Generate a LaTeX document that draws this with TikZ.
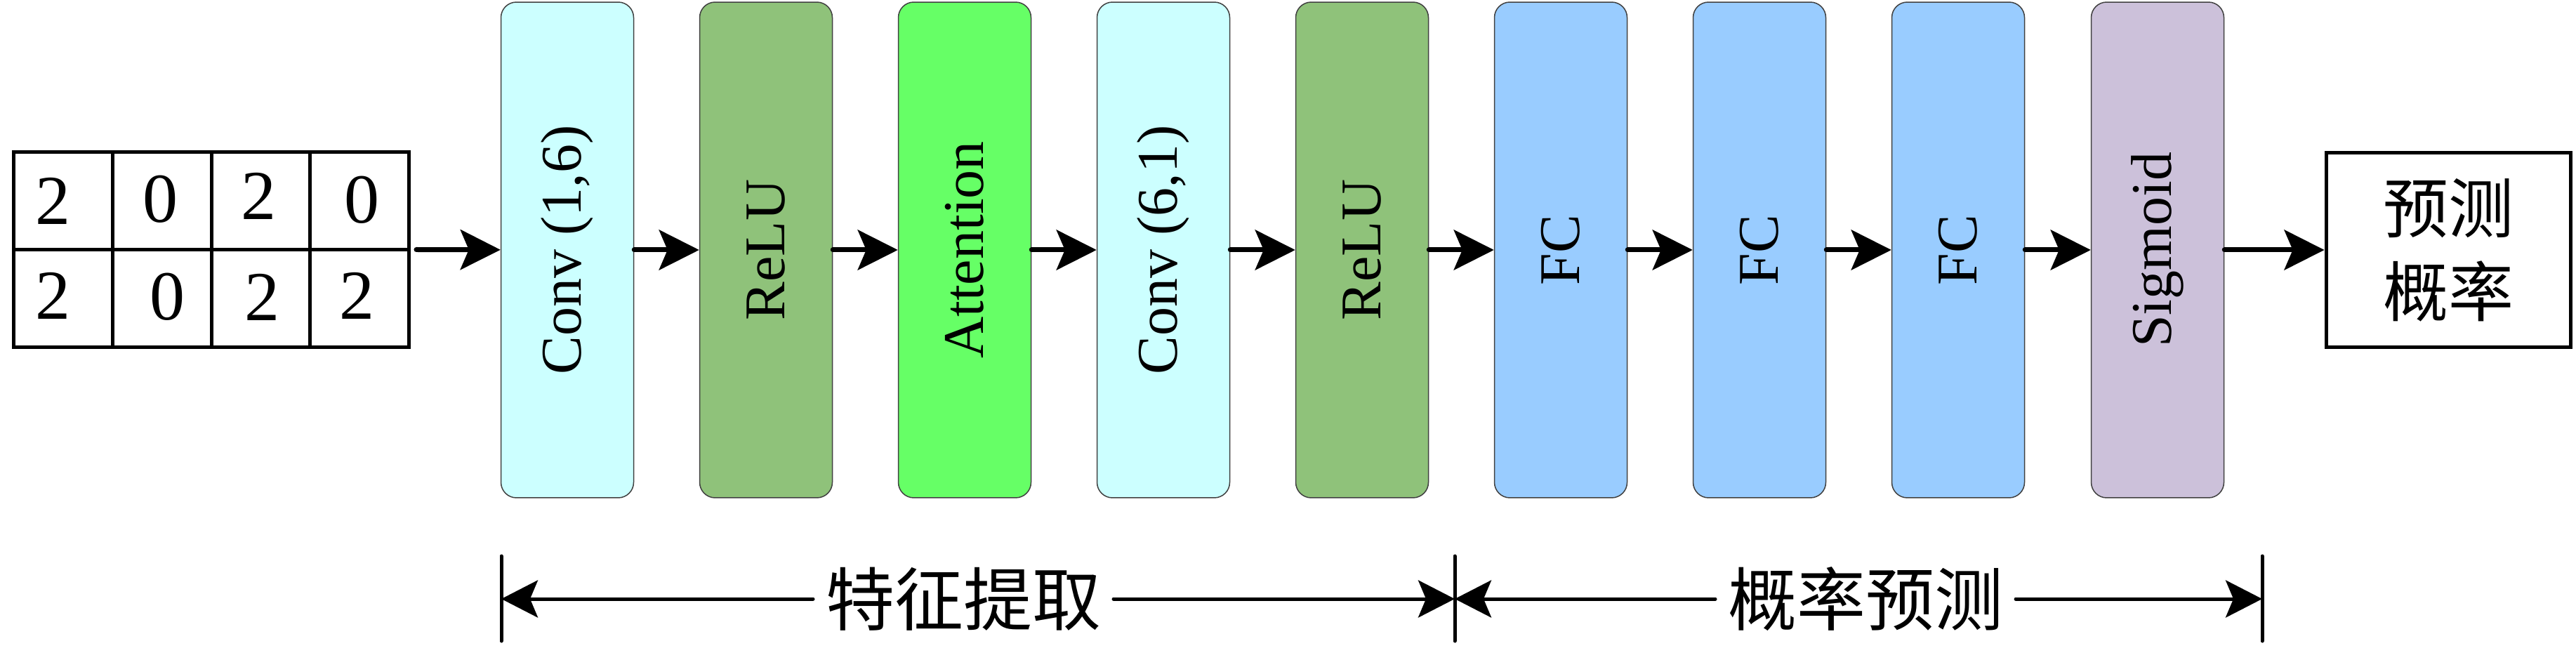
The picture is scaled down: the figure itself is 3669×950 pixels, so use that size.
\documentclass[tikz,border=0pt]{standalone}
\usepackage{graphicx}
\usepackage{fontspec}
\setmainfont{Liberation Serif}
\newfontfamily\cjk{Noto Sans CJK SC}
\usetikzlibrary{arrows.meta}

\definecolor{convc}{HTML}{CCFFFF}
\definecolor{reluc}{HTML}{8FC27A}
\definecolor{attc}{HTML}{66FF66}
\definecolor{fcc}{HTML}{99CCFF}
\definecolor{sigc}{HTML}{CCC1DA}

\tikzset{
  layer/.style={draw=black!75, line width=0.15pt, rounded corners=2.2pt,
    minimum width=18.9pt, minimum height=70.6pt, inner sep=0pt,
    font=\fontsize{8.2}{9}\selectfont},
  flow/.style={line width=0.7pt, line cap=round,
    -{Stealth[length=5.7pt, width=5.7pt, inset=1.2pt]}},
  span/.style={line width=0.5pt, line cap=round,
    -{Stealth[length=5.2pt, width=5.3pt, inset=1.1pt]}},
  tick/.style={line width=0.5pt, line cap=round},
  digit/.style={font=\fontsize{10}{12}\selectfont, inner sep=0pt},
  stage/.style={font=\cjk\fontsize{9.8}{12}\selectfont, inner sep=1.6pt},
}

\begin{document}
\begin{tikzpicture}[x=0.1pt, y=-0.1pt]
\useasboundingbox (0,0) rectangle (3669,950);

% input matrix
\node [draw, line width=0.5pt, minimum width=56.3pt, minimum height=27.8pt,
  inner sep=0pt] (grid) at (301,355.5) {};
\draw [tick, line cap=butt] (grid.west) -- (grid.east);
\draw [tick, line cap=butt] (160.25,216.5) -- (160.25,494.5);
\draw [tick, line cap=butt] (grid.north) -- (grid.south);
\draw [tick, line cap=butt] (441.75,216.5) -- (441.75,494.5);

\node [digit] (a11) at (75,286) {2};
\node [digit] (a12) at (228,284) {0};
\node [digit] (a13) at (368,279) {2};
\node [digit] (a14) at (515,285) {0};
\node [digit] (a21) at (75,421) {2};
\node [digit] (a22) at (238,423) {0};
\node [digit] (a23) at (373,423) {2};
\node [digit] (a24) at (508,421) {2};

% layers
\node [layer, fill=convc] (conv1) at (808,356) {\rotatebox{90}{Conv (1,6)}};
\node [layer, fill=reluc] (relu1) at (1091,356) {\rotatebox{90}{ReLU}};
\node [layer, fill=attc]  (att)   at (1374,356) {\rotatebox{90}{Attention}};
\node [layer, fill=convc] (conv2) at (1657,356) {\rotatebox{90}{Conv (6,1)}};
\node [layer, fill=reluc] (relu2) at (1940,356) {\rotatebox{90}{ReLU}};
\node [layer, fill=fcc]   (fc1)   at (2223,356) {\rotatebox{90}{FC}};
\node [layer, fill=fcc]   (fc2)   at (2506,356) {\rotatebox{90}{FC}};
\node [layer, fill=fcc]   (fc3)   at (2789,356) {\rotatebox{90}{FC}};
\node [layer, fill=sigc]  (sig)   at (3073,356) {\rotatebox{90}{Sigmoid}};

\node [draw, line width=0.5pt, minimum width=34.8pt, minimum height=27.7pt,
  align=center, font=\cjk\fontsize{9.3}{11.9}\selectfont] (out) at (3487,356)
  {预测\\概率};

\draw [flow] ([xshift=0.8pt]grid.east) -- (conv1);
\draw [flow] (conv1) -- (relu1);
\draw [flow] (relu1) -- (att);
\draw [flow] (att) -- (conv2);
\draw [flow] (conv2) -- (relu2);
\draw [flow] (relu2) -- (fc1);
\draw [flow] (fc1) -- (fc2);
\draw [flow] (fc2) -- (fc3);
\draw [flow] (fc3) -- (sig);
\draw [flow] (sig) -- (out);

% stages
\coordinate (bl) at (714,853);
\coordinate (bm) at (2072,853);
\coordinate (br) at (3222,853);
\draw [tick] (714,792) -- (714,913);
\draw [tick] (2072,792) -- (2072,913);
\draw [tick] (3222,792) -- (3222,913);

\node [stage] (feat) at (1372,853) {特征提取};
\node [stage] (pred) at (2657,853) {概率预测};

\draw [span] (feat.west) -- (bl);
\draw [span] (feat.east) -- (bm);
\draw [span] (pred.west) -- (bm);
\draw [span] (pred.east) -- (br);
\end{tikzpicture}
\end{document}
